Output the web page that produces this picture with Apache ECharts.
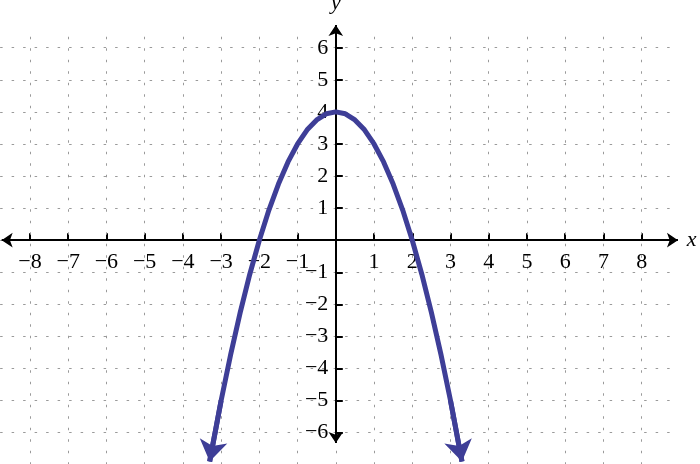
<!DOCTYPE html>
<html>
<head>
<meta charset="utf-8">
<script src="https://cdn.jsdelivr.net/npm/echarts@6/dist/echarts.min.js"></script>
<style>
html,body{margin:0;padding:0;background:#fff;}
#chart{width:700px;height:464px;}
</style>
</head>
<body>
<div id="chart"></div>
<script>
// ---- data ----
const xTickValues = [-8, -7, -6, -5, -4, -3, -2, -1, 1, 2, 3, 4, 5, 6, 7, 8];
const yTickValues = [-6, -5, -4, -3, -2, -1, 1, 2, 3, 4, 5, 6];
const gridXValues = [-8, -7, -6, -5, -4, -3, -2, -1, 0, 1, 2, 3, 4, 5, 6, 7, 8];
const gridYValues = [-6, -5, -4, -3, -2, -1, 0, 1, 2, 3, 4, 5, 6];
const curveX = [-3.3, -3, -2.75, -2.5, -2.25, -2, -1.75, -1.5, -1.25, -1, -0.75, -0.5, -0.25, 0,
                0.25, 0.5, 0.75, 1, 1.25, 1.5, 1.75, 2, 2.25, 2.5, 2.75, 3, 3.3];
const curveY = [-6.9, -5, -3.56, -2.25, -1.06, 0, 0.94, 1.75, 2.44, 3, 3.44, 3.75, 3.94, 4,
                3.94, 3.75, 3.44, 3, 2.44, 1.75, 0.94, 0, -1.06, -2.25, -3.56, -5, -6.9];

// extents of the drawn grid and axes (data units)
const gridXExtent = [-8.78, 8.76];
const gridYExtent = [-7.0, 6.4];
const xAxisExtent = [-8.74, 8.95];
const yAxisExtent = [-6.32, 6.71];

const fmt = v => v < 0 ? '\u2212' + (-v) : String(v);

const gridLines = [];
gridXValues.forEach(x => gridLines.push({coords: [[x, gridYExtent[0]], [x, gridYExtent[1]]]}));
gridYValues.forEach(y => gridLines.push({coords: [[gridXExtent[0], y], [gridXExtent[1], y]]}));

const curveCoords = curveX.map((x, i) => [x, curveY[i]]);
const n = curveX.length;
const arrowSegments = [
  {coords: [[curveX[1], curveY[1]], [curveX[0], curveY[0]]]},
  {coords: [[curveX[n - 2], curveY[n - 2]], [curveX[n - 1], curveY[n - 1]]]}
];

const labelFont = {fontFamily: 'Liberation Serif', fontSize: 22, color: '#000', opacity: 1};

const chart = echarts.init(document.getElementById('chart'), null, {renderer: 'canvas'});
chart.setOption({
  animation: false,
  backgroundColor: '#ffffff',
  grid: {left: -8.27, right: 20.13, top: 15.64, bottom: -0.76, outerBoundsMode: 'none', containLabel: false},
  xAxis: {
    type: 'value', min: -9, max: 9, interval: 1,
    axisLine: {show: true, onZero: true, lineStyle: {color: '#000', width: 0, opacity: 0}},
    splitLine: {show: false},
    axisTick: {show: true, inside: true, length: 7, customValues: xTickValues,
               lineStyle: {color: '#000', width: 2}},
    axisLabel: {show: false},
    name: 'x', nameLocation: 'end', nameGap: 7,
    nameTextStyle: {fontFamily: 'Liberation Serif', fontStyle: 'italic', fontSize: 22, color: '#000', verticalAlign: 'middle'}
  },
  yAxis: {
    type: 'value', min: -7, max: 7, interval: 1,
    axisLine: {show: true, onZero: true, lineStyle: {color: '#000', width: 0, opacity: 0}},
    splitLine: {show: false},
    axisTick: {show: true, inside: true, length: 7, customValues: yTickValues,
               lineStyle: {color: '#000', width: 2}},
    axisLabel: {show: false},
    name: 'y', nameLocation: 'end', nameGap: 1,
    nameTextStyle: {fontFamily: 'Liberation Serif', fontStyle: 'italic', fontSize: 22, color: '#000', align: 'center'}
  },
  series: [
    {
      type: 'lines', coordinateSystem: 'cartesian2d', silent: true, z: 1,
      symbol: 'none',
      lineStyle: {color: '#9a9a9a', width: 1, type: [2.5, 9], opacity: 1},
      data: gridLines
    },
    {
      type: 'scatter', silent: true, z: 2, symbolSize: 1, clip: false,
      itemStyle: {color: 'rgba(255,255,255,0)'},
      label: Object.assign({show: true, position: 'bottom', distance: 11,
                            formatter: p => fmt(p.value[0])}, labelFont),
      data: xTickValues.map(x => [x, 0])
    },
    {
      type: 'scatter', silent: true, z: 2, symbolSize: 1, clip: false,
      itemStyle: {color: 'rgba(255,255,255,0)'},
      label: Object.assign({show: true, position: 'left', distance: 7,
                            formatter: p => fmt(p.value[1])}, labelFont),
      data: yTickValues.map(y => [0, y])
    },
    {
      type: 'lines', coordinateSystem: 'cartesian2d', silent: true, z: 3,
      symbol: ['arrow', 'arrow'], symbolSize: 11,
      lineStyle: {color: '#000', width: 2, opacity: 1},
      data: [
        {coords: [[xAxisExtent[0], 0], [xAxisExtent[1], 0]]},
        {coords: [[0, yAxisExtent[0]], [0, yAxisExtent[1]]]}
      ]
    },
    {
      type: 'lines', coordinateSystem: 'cartesian2d', polyline: true, silent: true, z: 5,
      symbol: 'none',
      lineStyle: {color: '#3e3e97', width: 5, opacity: 1, join: 'round'},
      data: [{coords: curveCoords}]
    },
    {
      type: 'lines', coordinateSystem: 'cartesian2d', silent: true, z: 5,
      symbol: ['none', 'arrow'], symbolSize: 21,
      lineStyle: {color: '#3e3e97', width: 5, opacity: 1},
      data: arrowSegments
    }
  ]
});
</script>
</body>
</html>
